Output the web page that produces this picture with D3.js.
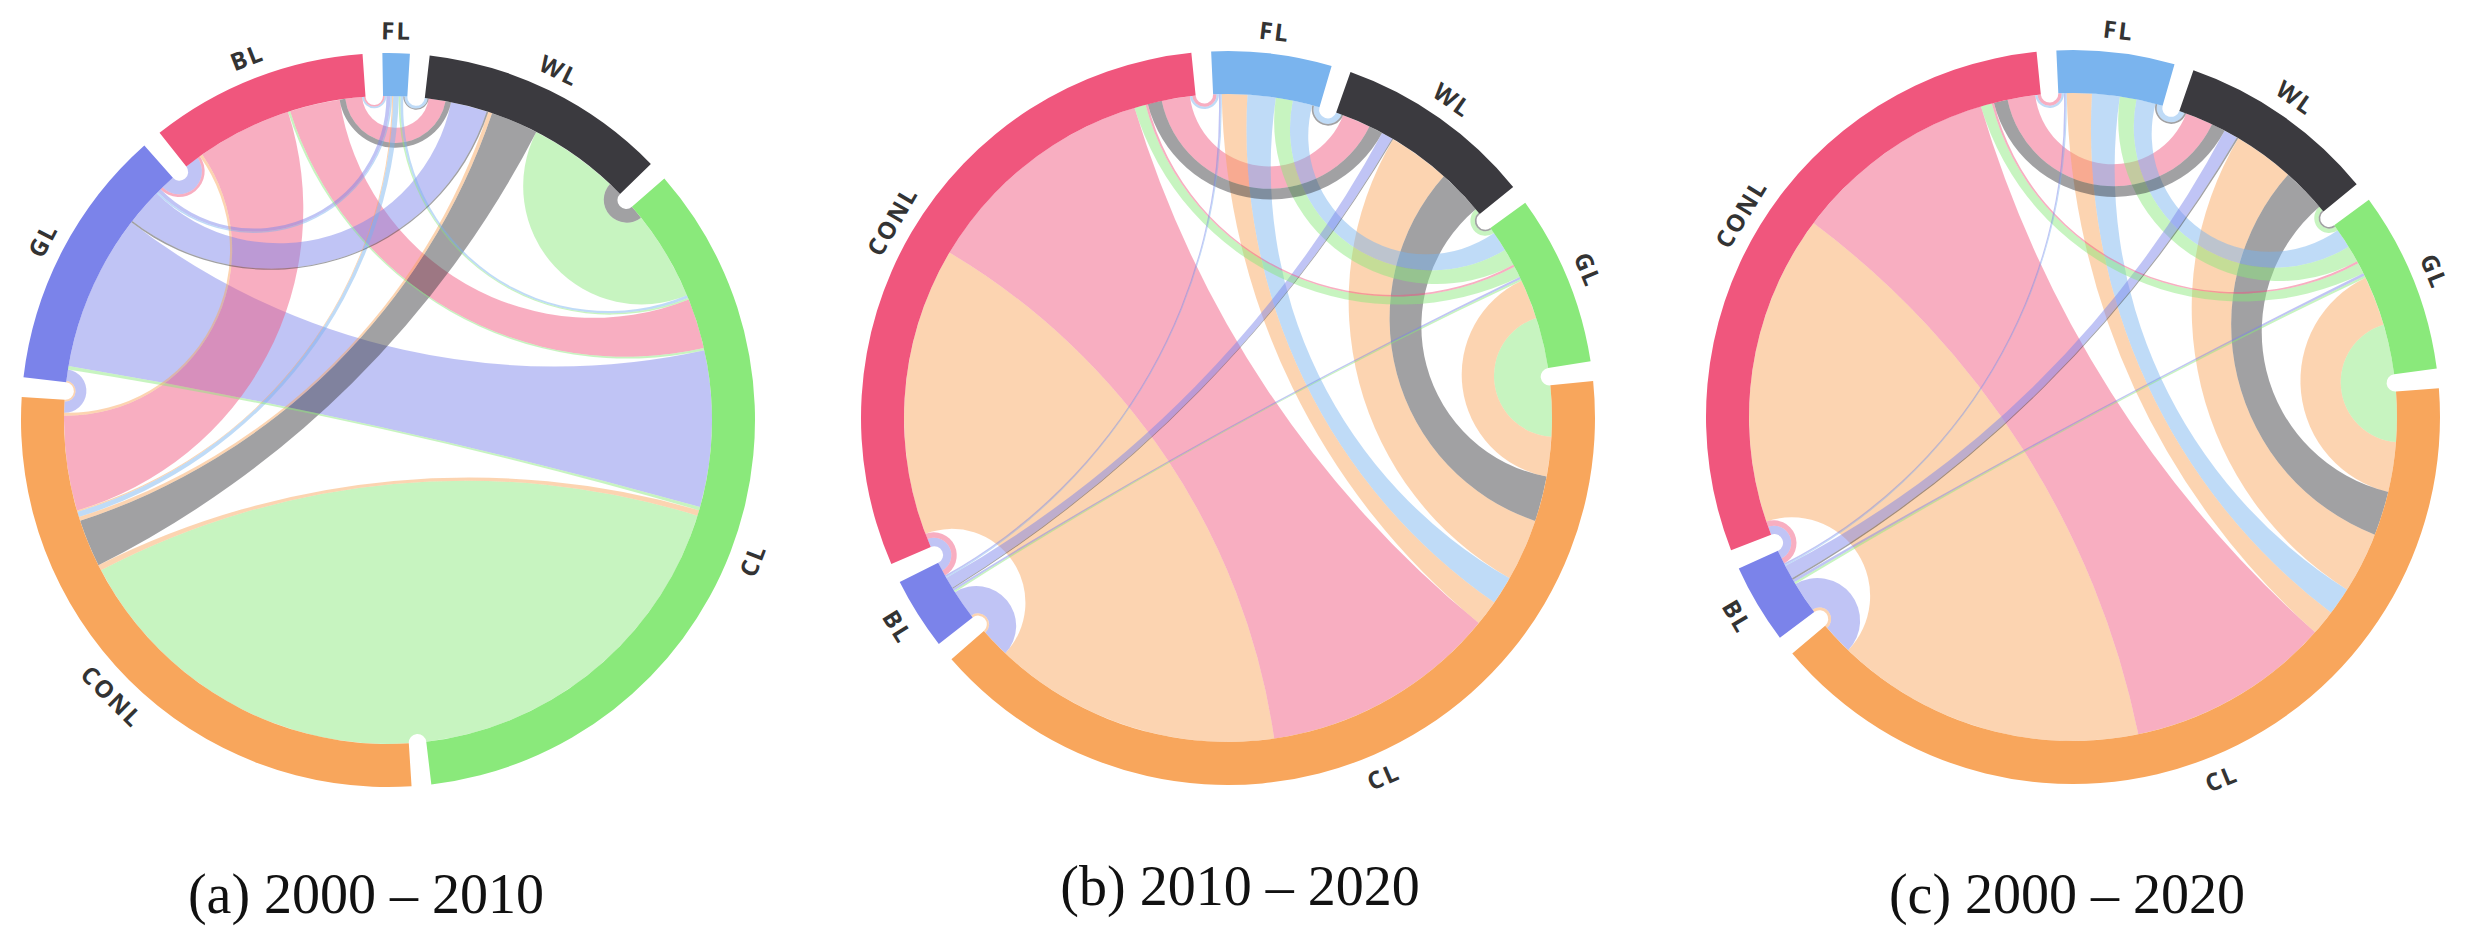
<!DOCTYPE html>
<html>
<head>
<meta charset="utf-8">
<script src="https://cdn.jsdelivr.net/npm/d3@7"></script>
<style>
  html, body { margin: 0; padding: 0; background: #ffffff; }
  svg { display: block; }
</style>
</head>
<body>
<svg id="chart" width="2470" height="935"></svg>
<script>
// ---------------- DATA ----------------
// (a) 2000 - 2010 : land-use groups, clockwise order
const namesA  = ["BL", "FL", "WL", "CL", "CONL", "GL"];
const colorsA = ["#f0567d", "#7ab4ee", "#3b3a3f", "#8ae97b", "#f8a65c", "#7b83ea"];
// flowsA[i][j] = transfer from namesA[i] to namesA[j]
const flowsA = [
  [0,   0.3, 3,   9,   17,  0.5],
  [0.3, 0,   0.5, 0.5, 1.0, 0.3],
  [1,   0.2, 0,   2.5, 8.5, 0.3],
  [0.4, 0.3, 16,  0,   66,  0.6],
  [0.5, 0.2, 0.7, 1,   0,   0.3],
  [2.5, 0.7, 6.5, 28,  2,   0  ]
];
const captionA = "(a) 2000 \u2013 2010";

// (b) 2010 - 2020
const namesB  = ["BL", "CONL", "FL", "WL", "GL", "CL"];
const colorsB = ["#7b83ea", "#f0567d", "#7ab4ee", "#3b3a3f", "#8ae97b", "#f8a65c"];
const flowsB = [
  [0,   1.5, 0.3, 2,   0.4, 5  ],
  [1,   0,   0.6, 5,   0.4, 42 ],
  [0.2, 0.4, 0,   1,   3.5, 5  ],
  [0.2, 2.5, 0.3, 0,   0.3, 8  ],
  [0.3, 2,   3,   0.8, 0,   9  ],
  [0.4, 51,  4.5, 11,  7,   0  ]
];
const captionB = "(b) 2010 \u2013 2020";

// (c) 2000 - 2020
const namesC  = ["BL", "CONL", "FL", "WL", "GL", "CL"];
const colorsC = ["#7b83ea", "#f0567d", "#7ab4ee", "#3b3a3f", "#8ae97b", "#f8a65c"];
const flowsC = [
  [0,   1.5, 0.3, 2.5, 0.5, 5.5],
  [1,   0,   0.6, 5,   0.4, 37 ],
  [0.2, 0.4, 0,   1,   3.5, 5  ],
  [0.3, 2.5, 0.3, 0,   0.3, 8  ],
  [0.4, 2,   3,   0.8, 0,   9  ],
  [0.5, 56,  4.5, 11,  9,   0  ]
];
const captionC = "(c) 2000 \u2013 2020";

// ---------------- LAYOUT / STYLE ----------------
const charts = [
  { names: namesA, colors: colorsA, flows: flowsA, caption: captionA, cx: 388,  cy: 420, start: 321.5, capX: 366,  capY: 913 },
  { names: namesB, colors: colorsB, flows: flowsB, caption: captionB, cx: 1228, cy: 418, start: 232,   capX: 1240, capY: 905 },
  { names: namesC, colors: colorsC, flows: flowsC, caption: captionC, cx: 2073, cy: 417, start: 233,   capX: 2067, capY: 913 }
];
const outerR = 367, innerR = 324, labelR = 390, padDeg = 3.1;
const TAU = Math.PI * 2, HALF = Math.PI / 2;

const svg = d3.select("#chart");

function chordLayout(flows, startDeg) {
  const n = flows.length;
  const totals = d3.range(n).map(i => d3.sum(flows[i]) + d3.sum(flows, r => r[i]));
  const pad = padDeg * Math.PI / 180;
  const ang = d3.scaleLinear().domain([0, d3.sum(totals)]).range([0, TAU - n * pad]);
  const groups = [];
  let x = startDeg * Math.PI / 180;
  for (let i = 0; i < n; i++) {
    const a0 = x, a1 = x + ang(totals[i]);
    groups.push({ index: i, startAngle: a0, endAngle: a1 });
    x = a1 + pad;
  }
  const mid = groups.map(g => (g.startAngle + g.endAngle) / 2);
  const ribbons = new Map();
  const get = (i, j) => {
    const k = i * n + j;
    if (!ribbons.has(k)) ribbons.set(k, { from: i, to: j, value: flows[i][j] });
    return ribbons.get(k);
  };
  for (let i = 0; i < n; i++) {
    const rel = j => (((mid[j] - mid[i]) % TAU) + TAU) % TAU;
    const partners = d3.range(n).filter(j => j !== i && (flows[i][j] || flows[j][i]));
    partners.sort((a, b) => rel(b) - rel(a));
    let a = groups[i].startAngle;
    for (const j of partners) {
      if (flows[j][i]) {
        const r = get(j, i);
        r.target = { index: i, startAngle: a, endAngle: (a += ang(flows[j][i])) };
      }
      if (flows[i][j]) {
        const r = get(i, j);
        r.source = { index: i, startAngle: a, endAngle: (a += ang(flows[i][j])) };
      }
    }
  }
  return { groups, ribbons: Array.from(ribbons.values()) };
}

function pt(a, r) { return [r * Math.sin(a), -r * Math.cos(a)]; }

function geodesic(p, a, b, r) {
  let delta = Math.abs(b - a) % TAU;
  if (delta > Math.PI) delta = TAU - delta;
  const [x1, y1] = pt(b, r);
  if (delta < 1e-6 || Math.abs(delta - Math.PI) < 1e-3) { p.lineTo(x1, y1); return; }
  p.arcTo(0, 0, x1, y1, r * Math.tan(delta / 2));
}

function ribbonPath(d, r) {
  const p = d3.path();
  const s = d.source, t = d.target;
  const [x0, y0] = pt(s.startAngle, r);
  p.moveTo(x0, y0);
  p.arc(0, 0, r, s.startAngle - HALF, s.endAngle - HALF);
  geodesic(p, s.endAngle, t.startAngle, r);
  p.arc(0, 0, r, t.startAngle - HALF, t.endAngle - HALF);
  geodesic(p, t.endAngle, s.startAngle, r);
  p.closePath();
  return p.toString();
}

const groupArc = d3.arc().innerRadius(innerR).outerRadius(outerR);

charts.forEach(c => {
  const lay = chordLayout(c.flows, c.start);
  const g = svg.append("g").attr("transform", `translate(${c.cx},${c.cy})`);

  g.append("g").selectAll("path")
    .data(lay.ribbons.slice().sort((a, b) => b.value - a.value))
    .join("path")
    .attr("d", d => ribbonPath(d, innerR))
    .attr("fill", d => c.colors[d.from])
    .attr("fill-opacity", 0.48);

  g.append("g").selectAll("path")
    .data(lay.groups)
    .join("path")
    .attr("d", groupArc)
    .attr("fill", d => c.colors[d.index]);

  g.append("g").selectAll("text")
    .data(lay.groups)
    .join("text")
    .attr("transform", d => {
      const m = (d.startAngle + d.endAngle) / 2;
      const [x, y] = pt(m, labelR);
      let deg = ((m * 180 / Math.PI) % 360 + 360) % 360;
      if (deg > 90 && deg < 270) deg -= 180;
      return `translate(${x},${y}) rotate(${deg})`;
    })
    .attr("text-anchor", "middle")
    .attr("dominant-baseline", "central")
    .style("font-family", "'Open Sans', 'DejaVu Sans', sans-serif")
    .style("font-weight", 700)
    .style("font-size", "24px")
    .style("letter-spacing", "2px")
    .attr("fill", "#333333")
    .text(d => c.names[d.index]);

  svg.append("text")
    .attr("x", c.capX)
    .attr("y", c.capY)
    .attr("text-anchor", "middle")
    .style("font-family", "'Liberation Serif', 'Times New Roman', serif")
    .style("font-size", "56px")
    .attr("fill", "#111111")
    .text(c.caption);
});
</script>
</body>
</html>
